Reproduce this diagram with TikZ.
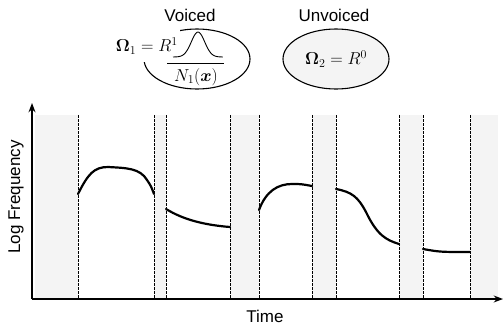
\documentclass[tikz,border=0pt]{standalone}
\usepackage{amsmath,amssymb}
\usepackage[no-math]{fontspec}
\setsansfont{Liberation Sans}
\usetikzlibrary{arrows.meta,shapes.geometric}

\begin{document}
\begin{tikzpicture}[>=Stealth, x=1pt, y=-1pt, font={\sffamily\fontsize{17}{20}\selectfont},
  band/.style={fill=gray!9},
  bound/.style={dash pattern=on 2.5pt off 1.5pt, line width=0.8pt},
  track/.style={line width=2.2pt, line cap=round},
  axis/.style={->, line width=1.4pt},
  class/.style={draw, ellipse, line width=1.1pt, minimum width=106pt, minimum height=60pt, inner sep=0pt}]
	  \useasboundingbox (0,0) rectangle (504,327);
	  % the two classes
	  \node (vlab) at (190,15) {Voiced};
	  \node (ulab) at (334,15) {Unvoiced};
	  \node[class] (voiced) at (197,59) {};
	  \node[class, fill=gray!9] (unvoiced) at (336,59) {$\boldsymbol{\Omega}_2 = R^0$};
	  \node[fill=white, inner sep=2pt, minimum height=32pt, anchor=east] (omega) at (180,46) {$\boldsymbol{\Omega}_1 = R^1$};
	  \draw[line width=0.9pt] plot[domain=-1:1, samples=41] ({198+25*\x}, {57-25*exp(-7*\x*\x)});
	  \draw[line width=0.8pt] (167,63) -- (224,63);
	  \node (dens) at (196,77) {$N_1(\boldsymbol{x})$};
	  % unvoiced stretches
	  \foreach \a/\b in {35/78, 154/166, 230/259, 312/336, 399/423, 470/498}
	    \fill[band] (\a,115) rectangle (\b,298);
	  \foreach \t in {78,154,166,230,259,312,336,399,423,470}
	    \draw[bound] (\t,115) -- (\t,298);
	  % axes
	  \coordinate (orig) at (32,299);
	  \coordinate (ytip) at (32,103);
	  \coordinate (xtip) at (503,299);
	  \draw[axis] (orig) -- (ytip);
	  \draw[axis] (orig) -- (xtip);
	  \node (time) at (265,316) {Time};
	  \node[rotate=90] (freq) at (16,197) {Log Frequency};
	  % pitch tracks
	  \draw[track] (78,194) .. controls (88,174) and (94,167) .. (108,167) .. controls (126,168) and (140,168) .. (147,180) .. controls (151,186) .. (154,194);
	  \draw[track] (166,209) .. controls (184,220) and (205,225) .. (230,227);
	  \draw[track] (259,210) .. controls (266,191) and (278,184) .. (292,184) .. controls (301,184) .. (312,186);
	  \draw[track] (336,189) .. controls (352,192) and (358,197) .. (366,212) .. controls (377,235) and (386,240) .. (399,244);
	  \draw[track] (423,249) .. controls (440,252) .. (470,252);
	\end{tikzpicture}
\end{document}
